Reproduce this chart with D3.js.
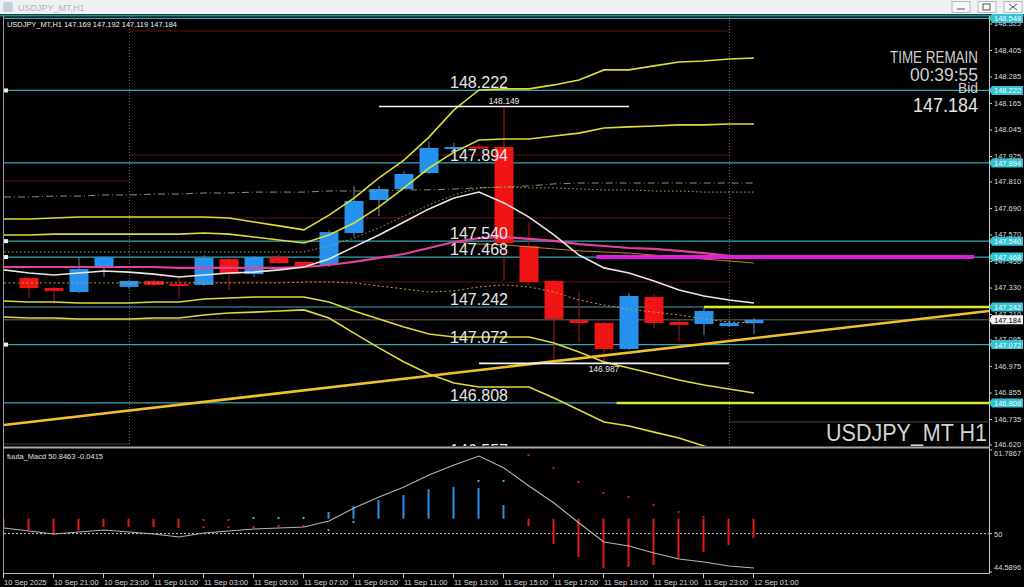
<!DOCTYPE html>
<html><head><meta charset="utf-8">
<script src="https://cdn.jsdelivr.net/npm/d3@7"></script>
<style>html,body{margin:0;padding:0;background:#000;overflow:hidden}svg{display:block}text{font-family:"Liberation Sans",Arial,sans-serif}</style>
</head><body><svg id="c" width="1024" height="587"></svg>
<script>
// ---------- DATA ----------
const times = ["10 Sep 19:00","10 Sep 20:00","10 Sep 21:00","10 Sep 22:00","10 Sep 23:00","11 Sep 00:00","11 Sep 01:00","11 Sep 02:00","11 Sep 03:00","11 Sep 04:00","11 Sep 05:00","11 Sep 06:00","11 Sep 07:00","11 Sep 08:00","11 Sep 09:00","11 Sep 10:00","11 Sep 11:00","11 Sep 12:00","11 Sep 13:00","11 Sep 14:00","11 Sep 15:00","11 Sep 16:00","11 Sep 17:00","11 Sep 18:00","11 Sep 19:00","11 Sep 20:00","11 Sep 21:00","11 Sep 22:00","11 Sep 23:00","12 Sep 00:00","12 Sep 01:00"];
const open  = [null,147.373,147.328,147.310,147.419,147.333,147.360,147.346,147.342,147.459,147.391,147.468,147.446,147.432,147.577,147.726,147.776,147.848,147.957,147.968,147.966,147.518,147.360,147.183,147.170,147.052,147.287,147.174,147.165,147.156,147.169];
const high  = [null,147.382,147.337,147.468,147.473,147.364,147.369,147.373,147.477,147.464,147.473,147.477,147.450,147.591,147.790,147.790,147.857,147.989,147.984,147.980,148.149,147.622,147.364,147.310,147.174,147.305,147.301,147.183,147.238,147.179,147.192];
const low   = [null,147.283,147.256,147.305,147.378,147.324,147.337,147.283,147.337,147.319,147.378,147.437,147.419,147.423,147.559,147.654,147.772,147.844,147.953,147.957,147.364,147.342,147.002,147.079,146.987,147.048,147.147,147.084,147.115,147.152,147.119];
const close = [null,147.328,147.315,147.414,147.468,147.360,147.342,147.342,147.464,147.391,147.468,147.441,147.428,147.581,147.722,147.776,147.844,147.962,147.966,147.962,147.532,147.355,147.188,147.170,147.052,147.292,147.170,147.161,147.224,147.170,147.184];

const bandUp2 = [147.640,147.640,147.645,147.649,147.649,147.649,147.649,147.649,147.649,147.645,147.627,147.609,147.591,147.658,147.735,147.826,147.907,148.011,148.134,148.224,148.229,148.229,148.247,148.269,148.315,148.315,148.333,148.351,148.355,148.364,148.369];
const bandUp1 = [147.568,147.568,147.572,147.572,147.572,147.572,147.572,147.572,147.577,147.572,147.559,147.545,147.532,147.568,147.622,147.695,147.781,147.871,147.943,147.998,148.002,148.002,148.016,148.029,148.052,148.057,148.061,148.066,148.066,148.070,148.070];
const bandDn1 = [147.269,147.265,147.265,147.260,147.260,147.260,147.265,147.265,147.278,147.283,147.287,147.287,147.287,147.265,147.224,147.188,147.152,147.120,147.106,147.106,147.106,147.106,147.079,147.038,146.993,146.966,146.939,146.912,146.889,146.871,146.853];
const bandDn2 = [147.197,147.192,147.192,147.188,147.188,147.188,147.192,147.192,147.206,147.215,147.219,147.224,147.229,147.192,147.124,147.057,146.993,146.939,146.898,146.880,146.880,146.880,146.830,146.776,146.722,146.704,146.676,146.649,146.613,146.586,146.559];
const maFast = [147.410,147.396,147.387,147.396,147.405,147.400,147.391,147.378,147.387,147.396,147.400,147.410,147.423,147.459,147.514,147.568,147.627,147.686,147.735,147.762,147.713,147.649,147.568,147.477,147.419,147.396,147.360,147.319,147.292,147.274,147.260];
const maSlow = [147.423,147.423,147.423,147.423,147.423,147.423,147.423,147.419,147.419,147.419,147.419,147.419,147.423,147.432,147.446,147.464,147.482,147.509,147.536,147.554,147.559,147.550,147.541,147.527,147.518,147.509,147.505,147.496,147.486,147.473,147.464];
const dotUpper = [147.491,147.491,147.491,147.491,147.491,147.491,147.491,147.491,147.491,147.491,147.491,147.491,147.491,147.518,147.554,147.600,147.654,147.704,147.749,147.781,147.785,147.781,147.781,147.776,147.772,147.772,147.767,147.767,147.762,147.762,147.762];
const dotLower = [147.351,147.351,147.351,147.351,147.351,147.351,147.351,147.351,147.351,147.351,147.351,147.351,147.355,147.355,147.351,147.337,147.324,147.310,147.315,147.333,147.342,147.333,147.310,147.274,147.251,147.233,147.219,147.206,147.188,147.174,147.170];
const dashDot = [147.740,147.740,147.744,147.744,147.749,147.749,147.753,147.753,147.758,147.758,147.762,147.762,147.762,147.767,147.767,147.767,147.772,147.772,147.776,147.781,147.785,147.790,147.799,147.803,147.803,147.803,147.803,147.803,147.803,147.803,147.803];
const thinOrange = [null,null,null,null,null,null,null,null,null,null,null,null,null,null,null,null,null,null,147.536,147.527,147.523,147.514,147.505,147.496,147.491,147.486,147.477,147.468,147.459,147.450,147.441];

const macdLine = [50.79,50.37,49.95,50.23,50.51,50.23,49.95,49.52,50.09,50.37,50.65,50.79,50.93,51.78,53.61,55.16,56.57,58.26,59.67,60.94,59.25,56.71,54.32,51.50,48.82,48.25,47.27,46.42,46.00,45.44,45.15];
const macdHist = [50.93,50.51,49.80,50.51,50.93,50.93,50.93,50.79,null,null,null,null,null,53.05,53.89,54.74,55.44,56.29,56.57,56.43,54.03,51.07,48.54,46.70,45.15,45.29,45.58,46.56,47.41,48.40,49.38];
const macdDotUp = [null,null,null,null,null,null,null,null,null,null,52.20,52.20,52.20,50.51,51.64,null,null,null,null,57.42,57.42,null,null,null,null,null,null,null,null,null,null];
const macdDotDn = [null,null,null,null,null,null,null,null,50.93,50.93,50.93,51.07,51.07,null,null,null,null,null,null,null,null,61.08,59.25,57.28,55.73,55.16,54.03,53.05,52.34,null,null];
const macdDotDn2 = [null,null,null,null,null,null,null,null,51.92,51.92,null,null,null,null,null,null,null,null,null,null,null,null,null,null,null,null,null,null,null,null,null];
const macdBase = 52.1, macdLevel = 50;

const levelPrices = [148.548,148.222,147.894,147.540,147.468,147.242,147.072,146.808,146.557];
const levelLabelled = [148.222,147.894,147.540,147.468,147.242,147.072,146.808,146.557];
const levelMarkedLeft = [148.222,147.540,147.468,147.072];
const axisBoxed = [148.548,148.222,147.894,147.540,147.468,147.242,147.072,146.808];
const bidPrice = 147.184;
const dayLevels = [148.491,147.930,147.645,147.355];      // 11 Sep day
const prevDayLevels = [147.812];                          // 10 Sep
const greyLevels = [{p:146.622,from:0,to:5},{p:146.722,from:29,to:39.4}];
const yellowLevels = [{p:147.242,from:28},{p:146.808,from:24.5}];
const magentaLevel = {p:147.468,from:23.7,to:38.8};
const trend = [{k:0,p:146.708},{k:39.4,p:147.224}];
const highMark = {k:20,p:148.149,label:"148.149"};
const lowMark = {k:24,p:146.987,label:"146.987"};
const separators = [5,29];
const priceTicks = [148.525,148.405,148.285,148.165,148.045,147.925,147.810,147.690,147.570,147.450,147.330,147.210,147.095,146.975,146.855,146.735,146.620];
const timeTickBars = [0,2,4,6,8,10,12,14,16,18,20,22,24,26,28,30];
const timeTickLabels = ["10 Sep 2025","10 Sep 21:00","10 Sep 23:00","11 Sep 01:00","11 Sep 03:00","11 Sep 05:00","11 Sep 07:00","11 Sep 09:00","11 Sep 11:00","11 Sep 13:00","11 Sep 15:00","11 Sep 17:00","11 Sep 19:00","11 Sep 21:00","11 Sep 23:00","12 Sep 01:00"];
const macdTicks = [61.7867,50,44.5896];

// ---------- SETUP ----------
const svg = d3.select("#c");
const x = d3.scaleLinear().domain([0,39.4]).range([4,989]);
const y = d3.scaleLinear().domain([146.6131,148.5543]).range([446,17]);
const ym = d3.scaleLinear().domain([44.5896,61.7867]).range([572,450]);
const idx = d3.range(times.length);

svg.append("rect").attr("width",1024).attr("height",587).attr("fill","#000");
const defs = svg.append("defs");
defs.append("clipPath").attr("id","cm").append("rect").attr("x",4).attr("y",17).attr("width",985).attr("height",429);
defs.append("clipPath").attr("id","cs").append("rect").attr("x",4).attr("y",449).attr("width",985).attr("height",124);

// title bar
svg.append("rect").attr("x",0).attr("y",0).attr("width",1024).attr("height",14).attr("fill","#eef0f3");
svg.append("rect").attr("x",3).attr("y",2).attr("width",10).attr("height",10).attr("rx",2).attr("fill","#c9cfd6");
svg.append("text").attr("x",18).attr("y",10.5).attr("font-size",9).attr("fill","#b0b4b8").text("USDJPY_MT,H1");
[952,978,1004].forEach((bx,i)=>{
  svg.append("rect").attr("x",bx).attr("y",1.5).attr("width",18).attr("height",11).attr("fill","#f7f7f7").attr("stroke","#b8b8b8");
});
svg.append("line").attr("x1",957).attr("x2",965).attr("y1",9).attr("y2",9).attr("stroke","#555");
svg.append("rect").attr("x",983).attr("y",4).attr("width",7).attr("height",6).attr("fill","none").attr("stroke","#555");
svg.append("path").attr("d","M1009,4L1017,10M1017,4L1009,10").attr("stroke","#555");
svg.append("line").attr("x1",0).attr("x2",1024).attr("y1",15.5).attr("y2",15.5).attr("stroke","#2e8a86").attr("stroke-width",2);

// ---------- MAIN PANE ----------
const gm = svg.append("g").attr("clip-path","url(#cm)");
const line = arr => d3.line().defined(k=>arr[k]!=null).x(k=>x(k)).y(k=>y(arr[k]))(idx);

dayLevels.forEach(p=>gm.append("line").attr("x1",x(5)).attr("x2",x(29)).attr("y1",y(p)).attr("y2",y(p)).attr("stroke","#5c1414"));
prevDayLevels.forEach(p=>gm.append("line").attr("x1",x(0)).attr("x2",x(5)).attr("y1",y(p)).attr("y2",y(p)).attr("stroke","#5c1414"));
greyLevels.forEach(g=>gm.append("line").attr("x1",x(g.from)).attr("x2",x(g.to)).attr("y1",y(g.p)).attr("y2",y(g.p)).attr("stroke","#444"));
separators.forEach(k=>gm.append("line").attr("x1",x(k)+0.5).attr("x2",x(k)+0.5).attr("y1",17).attr("y2",446).attr("stroke","#6a6a6a").attr("stroke-dasharray","1,2"));

levelPrices.forEach(p=>gm.append("line").attr("x1",4).attr("x2",989).attr("y1",y(p)).attr("y2",y(p)).attr("stroke","#3aa6b4").attr("stroke-width",1.2));
gm.append("line").attr("x1",4).attr("x2",989).attr("y1",y(bidPrice)).attr("y2",y(bidPrice)).attr("stroke","#6c6c6c");

const cg = gm.append("g");
idx.filter(k=>open[k]!=null).forEach(k=>{
  const up = close[k]>=open[k];
  const col = up ? "#2592f0" : "#f01414";
  cg.append("line").attr("x1",x(k)).attr("x2",x(k)).attr("y1",y(high[k])).attr("y2",y(low[k])).attr("stroke",up?"#6a8aa8":"#b01818");
  const t = y(Math.max(open[k],close[k])), b = y(Math.min(open[k],close[k]));
  cg.append("rect").attr("x",x(k)-9.5).attr("y",t).attr("width",19).attr("height",Math.max(2,b-t)).attr("fill",col);
});

gm.append("path").attr("d",line(dashDot)).attr("fill","none").attr("stroke","#8c9464").attr("stroke-dasharray","7,3,1,3");
gm.append("path").attr("d",line(dotUpper)).attr("fill","none").attr("stroke","#b8a446").attr("stroke-dasharray","1.5,2.5");
gm.append("path").attr("d",line(dotLower)).attr("fill","none").attr("stroke","#c89a44").attr("stroke-dasharray","2,2.5");

[bandUp2,bandUp1,bandDn1,bandDn2].forEach(a=>gm.append("path").attr("d",line(a)).attr("fill","none").attr("stroke","#dcdc3c").attr("stroke-width",1.6));
gm.append("path").attr("d",line(thinOrange)).attr("fill","none").attr("stroke","#c8822e").attr("stroke-width",1);
gm.append("path").attr("d",line(maSlow)).attr("fill","none").attr("stroke","#e0429c").attr("stroke-width",2.2);
gm.append("path").attr("d",line(maFast)).attr("fill","none").attr("stroke","#f2e4e4").attr("stroke-width",1.6);

gm.append("line").attr("x1",x(trend[0].k)).attr("y1",y(trend[0].p)).attr("x2",x(trend[1].k)).attr("y2",y(trend[1].p)).attr("stroke","#f0c22a").attr("stroke-width",2.6);
yellowLevels.forEach(l=>gm.append("line").attr("x1",x(l.from)).attr("x2",989).attr("y1",y(l.p)).attr("y2",y(l.p)).attr("stroke","#d6ec2c").attr("stroke-width",2.6));
gm.append("line").attr("x1",x(magentaLevel.from)).attr("x2",x(magentaLevel.to)).attr("y1",y(magentaLevel.p)).attr("y2",y(magentaLevel.p)).attr("stroke","#e01ee0").attr("stroke-width",4);

[highMark,lowMark].forEach((m,i)=>{
  gm.append("line").attr("x1",x(m.k-5)).attr("x2",x(m.k+5)).attr("y1",y(m.p)).attr("y2",y(m.p)).attr("stroke","#f4f4f4").attr("stroke-width",1.6);
  gm.append("text").attr("x",x(m.k)).attr("y",i===0?y(m.p)-3:y(m.p)+9).attr("text-anchor","middle").attr("font-size",8.5).attr("fill","#e8e8e8").text(m.label);
});

levelLabelled.forEach(p=>gm.append("text").attr("x",450).attr("y",y(p)-2).attr("font-size",17).attr("fill","#e6e6e6")
  .attr("textLength",58).attr("lengthAdjust","spacingAndGlyphs").text(p.toFixed(3)));
levelMarkedLeft.forEach(p=>gm.append("rect").attr("x",4).attr("y",y(p)-2).attr("width",4).attr("height",4).attr("fill","#f0f0f0"));

const info = gm.append("g").attr("fill","#cfcfcf").attr("text-anchor","end");
info.append("text").attr("x",978).attr("y",63).attr("font-size",17).attr("textLength",88).attr("lengthAdjust","spacingAndGlyphs").text("TIME REMAIN");
info.append("text").attr("x",978).attr("y",81).attr("font-size",19).attr("textLength",68).attr("lengthAdjust","spacingAndGlyphs").text("00:39:55");
info.append("text").attr("x",978).attr("y",93).attr("font-size",14).attr("textLength",20).attr("lengthAdjust","spacingAndGlyphs").text("Bid");
info.append("text").attr("x",978).attr("y",112).attr("font-size",20).attr("fill","#e4e4e4").attr("textLength",65).attr("lengthAdjust","spacingAndGlyphs").text(bidPrice.toFixed(3));
info.append("text").attr("x",987).attr("y",441).attr("font-size",24).attr("fill","#d4d4d4").attr("textLength",161).attr("lengthAdjust","spacingAndGlyphs").text("USDJPY_MT H1");

svg.append("text").attr("x",7).attr("y",27).attr("font-size",7.5).attr("fill","#f0f0f0").attr("textLength",170).attr("lengthAdjust","spacingAndGlyphs")
  .text("USDJPY_MT,H1  "+[open[30],high[30],low[30],close[30]].map(v=>v.toFixed(3)).join(" "));

// ---------- PRICE AXIS ----------
const ax = svg.append("g").attr("transform","translate(989,0)")
  .call(d3.axisRight(y).tickValues(priceTicks).tickFormat(d3.format(".3f")).tickSize(3).tickPadding(2));
ax.select(".domain").remove();
ax.selectAll("line").attr("stroke","#cfcfcf");
ax.selectAll("text").attr("fill","#dcdcdc").attr("font-size",7.5).attr("font-family","Liberation Sans");
axisBoxed.forEach(p=>{
  const g = svg.append("g").attr("transform",`translate(989,${y(p)})`);
  g.append("path").attr("d","M0,0L3,-4.5H34V4.5H3Z").attr("fill","#36c2d2");
  g.append("text").attr("x",5).attr("y",3).attr("font-size",7.5).attr("fill","#e8ffff").text(p.toFixed(3));
});
{
  const g = svg.append("g").attr("transform",`translate(989,${y(bidPrice)})`);
  g.append("path").attr("d","M0,0L3,-4.5H34V4.5H3Z").attr("fill","#f4f4f4");
  g.append("text").attr("x",5).attr("y",3).attr("font-size",7.5).attr("fill","#000").text(bidPrice.toFixed(3));
}

// ---------- MACD PANE ----------
const gs = svg.append("g").attr("clip-path","url(#cs)");
gs.append("line").attr("x1",4).attr("x2",989).attr("y1",ym(macdLevel)).attr("y2",ym(macdLevel)).attr("stroke","#d0d0d0").attr("stroke-dasharray","2,2");
idx.filter(k=>macdHist[k]!=null).forEach(k=>{
  const v = macdHist[k];
  gs.append("line").attr("x1",x(k)-0.5).attr("x2",x(k)-0.5).attr("y1",ym(macdBase)).attr("y2",ym(v))
    .attr("stroke",v>macdBase?"#2a90ec":"#e41a1a").attr("stroke-width",2);
});
const dots = (arr,col)=>idx.filter(k=>arr[k]!=null).forEach(k=>gs.append("rect").attr("x",x(k)-1.5).attr("y",ym(arr[k])-1).attr("width",2).attr("height",2).attr("fill",col));
dots(macdDotUp,"#3cb8b4"); dots(macdDotDn,"#c82020"); dots(macdDotDn2,"#c82020");
gs.append("path").attr("d",d3.line().x(k=>x(k)).y(k=>ym(macdLine[k]))(idx)).attr("fill","none").attr("stroke","#b4b4b4").attr("stroke-width",1.1);
svg.append("text").attr("x",7).attr("y",459).attr("font-size",7.5).attr("fill","#e0e0e0").attr("textLength",96).attr("lengthAdjust","spacingAndGlyphs").text("fuuta_Macd 50.8463   -0.0415");
macdTicks.forEach((v,i)=>{
  const ty = i===0 ? ym(v)+6 : (i===2 ? ym(v)-2 : ym(v)+3);
  svg.append("line").attr("x1",989).attr("x2",992).attr("y1",ym(v)).attr("y2",ym(v)).attr("stroke","#cfcfcf");
  svg.append("text").attr("x",994).attr("y",ty).attr("font-size",7.5).attr("fill","#dcdcdc").text(i===1?"50":v.toFixed(4));
});

// ---------- FRAMES ----------
svg.append("line").attr("x1",3.5).attr("x2",3.5).attr("y1",16).attr("y2",574).attr("stroke","#9a9a9a");
svg.append("line").attr("x1",989.5).attr("x2",989.5).attr("y1",16).attr("y2",574).attr("stroke","#c8c8c8");
svg.append("line").attr("x1",3).attr("x2",990).attr("y1",447.5).attr("y2",447.5).attr("stroke","#a8a8a8").attr("stroke-width",2);
svg.append("line").attr("x1",3).attr("x2",990).attr("y1",573.5).attr("y2",573.5).attr("stroke","#b8b8b8");

// ---------- TIME AXIS ----------
timeTickBars.forEach((k,i)=>{
  svg.append("line").attr("x1",x(k)-0.5).attr("x2",x(k)-0.5).attr("y1",574).attr("y2",578).attr("stroke","#cfcfcf");
  svg.append("text").attr("x",x(k)).attr("y",584.5).attr("font-size",7.5).attr("fill","#dcdcdc").text(timeTickLabels[i]);
});
</script></body></html>
